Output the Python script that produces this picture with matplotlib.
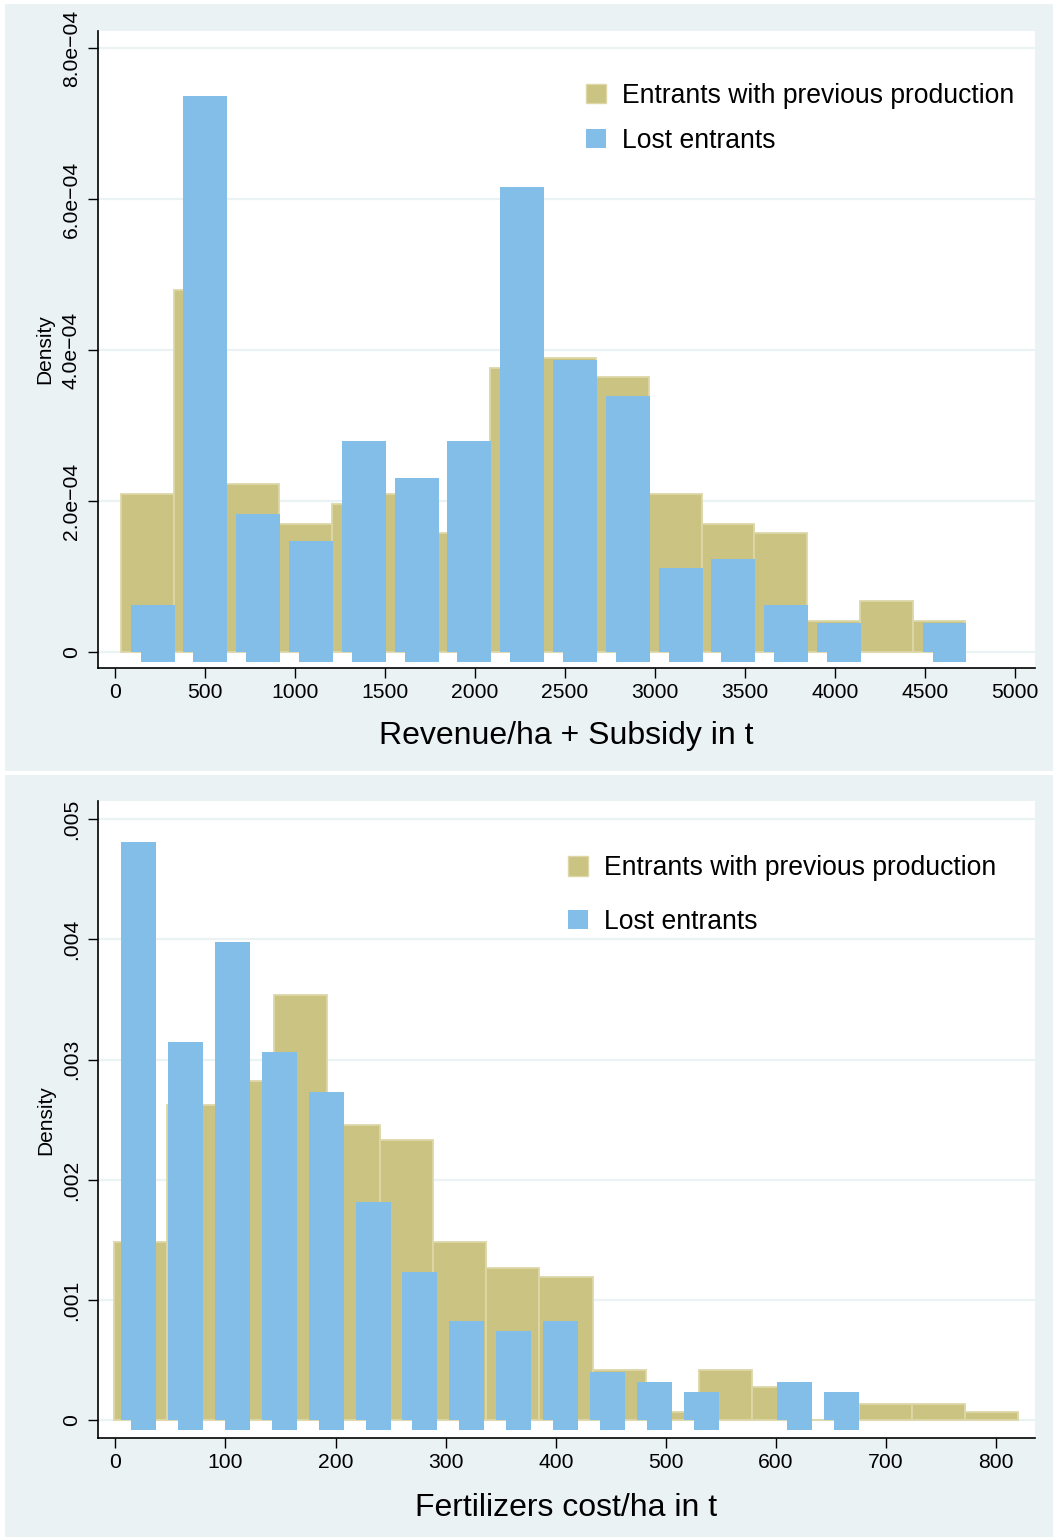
import matplotlib
matplotlib.use('Agg')
import matplotlib.pyplot as plt
from matplotlib.patches import Rectangle, Patch
import numpy as np

plt.rcParams['font.family'] = ['Liberation Sans', 'DejaVu Sans']

# ---------------- data ----------------
# Panel 1: Revenue/ha + Subsidy
rev_entrants_bin_start = 32.0
rev_entrants_bin_width = 293.3
rev_entrants = [2.09e-4, 4.79e-4, 2.23e-4, 1.70e-4, 1.96e-4, 2.09e-4, 1.58e-4, 3.76e-4,
                3.90e-4, 3.64e-4, 2.09e-4, 1.70e-4, 1.57e-4, 0.41e-4, 0.67e-4, 0.41e-4]
rev_lost_bin_start = 37.6
rev_lost_bin_width = 293.3
rev_lost = [0.62e-4, 7.36e-4, 1.83e-4, 1.47e-4, 2.79e-4, 2.31e-4, 2.79e-4, 6.16e-4,
            3.87e-4, 3.39e-4, 1.11e-4, 1.23e-4, 0.62e-4, 0.39e-4, 0.0, 0.39e-4]
rev_xticks = [0, 500, 1000, 1500, 2000, 2500, 3000, 3500, 4000, 4500, 5000]
rev_yticks = [0, 2e-4, 4e-4, 6e-4, 8e-4]
rev_yticklabels = ['0', '2.0e\u221204', '4.0e\u221204', '6.0e\u221204', '8.0e\u221204']
rev_xlabel = 'Revenue/ha + Subsidy in t'

# Panel 2: Fertilizers cost/ha
fert_entrants_bin_start = -1.2
fert_entrants_bin_width = 48.3
fert_entrants = [1.48e-3, 2.62e-3, 2.82e-3, 3.54e-3, 2.46e-3, 2.33e-3, 1.48e-3, 1.27e-3,
                 1.195e-3, 0.42e-3, 0.068e-3, 0.42e-3, 0.28e-3, 0.0, 0.135e-3, 0.135e-3, 0.068e-3]
fert_lost_bin_start = -5.35
fert_lost_bin_width = 42.55
fert_lost = [4.81e-3, 3.146e-3, 3.98e-3, 3.06e-3, 2.73e-3, 1.82e-3, 1.234e-3, 0.825e-3,
             0.742e-3, 0.825e-3, 0.406e-3, 0.32e-3, 0.237e-3, 0.0, 0.32e-3, 0.237e-3]
fert_xticks = [0, 100, 200, 300, 400, 500, 600, 700, 800]
fert_yticks = [0, 0.001, 0.002, 0.003, 0.004, 0.005]
fert_yticklabels = ['0', '.001', '.002', '.003', '.004', '.005']
fert_xlabel = 'Fertilizers cost/ha in t'

legend_labels = ['Entrants with previous production', 'Lost entrants']

# ---------------- style ----------------
BG = '#EAF2F3'
OLIVE = '#CBC382'
OLIVE_EDGE = '#DDD7A8'
BLUE = '#82BEE8'
GRID = '#EAF2F3'

W, H = 1055, 1537
fig = plt.figure(figsize=(W / 100, H / 100), dpi=100, facecolor='white')


def px_rect(x0, y0, x1, y1):
    return [x0 / W, 1 - y1 / H, (x1 - x0) / W, (y1 - y0) / H]


for (x0, y0, x1, y1) in [(5, 4, 1053, 771), (5, 775, 1053, 1537)]:
    l, b, w, h = px_rect(x0, y0, x1, y1)
    fig.add_artist(Rectangle((l, b), w, h, transform=fig.transFigure,
                             facecolor=BG, edgecolor='none', zorder=-10))


def draw_panel(ax_box, ent_start, ent_w, ent_vals, lost_start, lost_w, lost_vals,
               bar_frac, notch_dx_px, notch_dy_px, xlim, ylim, xticks, yticks,
               yticklabels, xlabel, xlabel_y, legend_anchor, labelspacing):
    ax = fig.add_axes(ax_box)
    ax.set_facecolor('white')
    ax.set_xlim(*xlim)
    ax.set_ylim(*ylim)
    ax_w_px = ax_box[2] * W
    ax_h_px = ax_box[3] * H
    dx = (xlim[1] - xlim[0]) / ax_w_px
    dy = (ylim[1] - ylim[0]) / ax_h_px

    for t in yticks:
        ax.axhline(t, color=GRID, lw=1.6, zorder=0.5)

    ent_vals = np.asarray(ent_vals)
    ent_left = ent_start + ent_w * np.arange(len(ent_vals))
    ax.bar(ent_left, ent_vals, width=ent_w, align='edge', color=OLIVE,
           edgecolor=OLIVE_EDGE, linewidth=1.3, zorder=2)

    lost_vals = np.asarray(lost_vals)
    rights = lost_start + lost_w * (np.arange(len(lost_vals)) + 1)
    bw = lost_w * bar_frac
    lefts = rights - bw
    mask = lost_vals > 0
    ax.bar(lefts[mask], lost_vals[mask], width=bw, align='edge', color=BLUE,
           edgecolor='none', zorder=3)
    ndx = notch_dx_px * dx
    ndy = notch_dy_px * dy
    ax.bar(lefts[mask] + ndx, np.full(mask.sum(), ndy), width=bw - ndx,
           bottom=-ndy, align='edge', color=BLUE, edgecolor='none', zorder=3)

    for s in ['top', 'right']:
        ax.spines[s].set_visible(False)
    for s in ['left', 'bottom']:
        ax.spines[s].set_linewidth(1.2)
        ax.spines[s].set_color('black')

    ax.set_xticks(xticks)
    ax.set_xticklabels([str(t) for t in xticks])
    ax.set_yticks(yticks)
    ax.set_yticklabels(yticklabels, rotation=90, va='center')
    ax.tick_params(axis='both', direction='out', length=7.5, width=1.0,
                   colors='black', labelsize=15.2)
    ax.tick_params(axis='x', pad=3)
    ax.tick_params(axis='y', pad=5)

    ax.set_xlabel(xlabel, fontsize=23)
    ax.xaxis.set_label_coords(0.5, xlabel_y)
    ax.xaxis.label.set_va('center')
    ax.set_ylabel('Density', fontsize=15)
    ax.yaxis.set_label_coords(-0.0566, 0.5)
    ax.yaxis.label.set_va('center')

    handles = [Patch(facecolor=OLIVE, edgecolor=OLIVE_EDGE, linewidth=1.0),
               Patch(facecolor=BLUE, edgecolor='none')]
    ax.legend(handles, legend_labels, loc='upper left', bbox_to_anchor=legend_anchor,
              frameon=False, fontsize=19.1, handlelength=0.76, handleheight=0.76,
              handletextpad=0.6, labelspacing=labelspacing, borderpad=0,
              borderaxespad=0)
    return ax


# top panel: axes pixel box x 98..1035, y 31..668
draw_panel([98 / W, 1 - 668 / H, (1035 - 98) / W, (668 - 31) / H],
           rev_entrants_bin_start, rev_entrants_bin_width, rev_entrants,
           rev_lost_bin_start, rev_lost_bin_width, rev_lost,
           bar_frac=0.833, notch_dx_px=10, notch_dy_px=10,
           xlim=(-94.4, 5111), ylim=(-0.212e-4, 8.225e-4),
           xticks=rev_xticks, yticks=rev_yticks, yticklabels=rev_yticklabels,
           xlabel=rev_xlabel, xlabel_y=-0.107,
           legend_anchor=(0.5208, 0.919), labelspacing=0.72)

# bottom panel: axes pixel box x 98.3..1034.5, y 801..1438.3
draw_panel([98.3 / W, 1 - 1438.3 / H, (1034.5 - 98.3) / W, (1438.3 - 801) / H],
           fert_entrants_bin_start, fert_entrants_bin_width, fert_entrants,
           fert_lost_bin_start, fert_lost_bin_width, fert_lost,
           bar_frac=0.747, notch_dx_px=10, notch_dy_px=10,
           xlim=(-15.4, 834.7), ylim=(-0.148e-3, 5.15e-3),
           xticks=fert_xticks, yticks=fert_yticks, yticklabels=fert_yticklabels,
           xlabel=fert_xlabel, xlabel_y=-0.1094,
           legend_anchor=(0.5017, 0.9145), labelspacing=1.02)

fig.savefig('out.png', dpi=100, facecolor='white')
